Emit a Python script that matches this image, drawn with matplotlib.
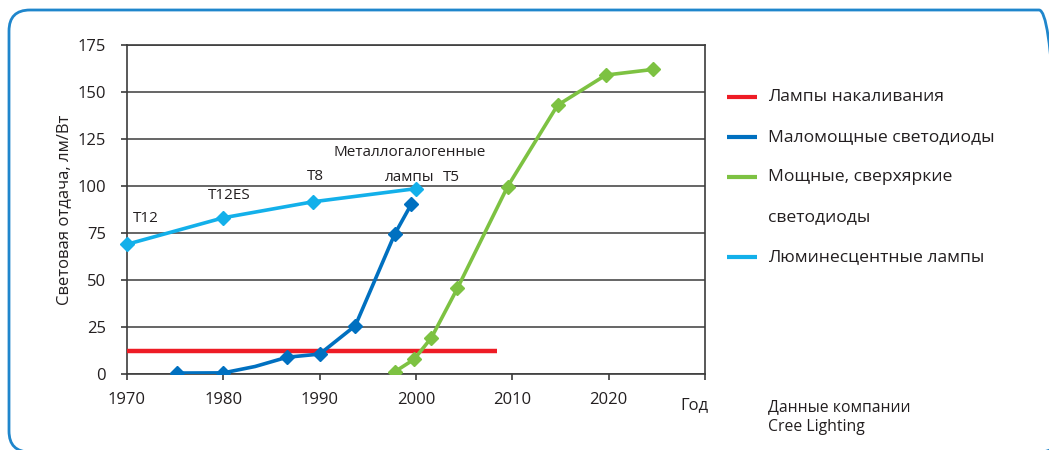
import matplotlib
matplotlib.use("Agg")
import matplotlib.pyplot as plt
from matplotlib.lines import Line2D
from matplotlib.patches import FancyBboxPatch

plt.rcParams['font.family'] = ['Open Sans', 'DejaVu Sans']

# Data
inc_x = [1970, 2008.4]
inc_y = [12, 12]

low_x = [1975.2, 1980.0, 1983.3, 1986.6, 1990.0, 1993.7, 1997.8, 1999.5]
low_y = [0.5, 0.6, 4.0, 8.9, 10.6, 25.7, 74.5, 90.2]
low_marks = [0, 1, 3, 4, 5, 6, 7]

hp_x = [1997.8, 1999.8, 2001.6, 2004.3, 2009.5, 2014.7, 2019.7, 2024.6]
hp_y = [1.2, 7.8, 19.3, 45.6, 99.6, 143.0, 159.0, 162.0]

fl_x = [1970.0, 1980.0, 1989.3, 2000.0]
fl_y = [69.0, 83.1, 91.6, 98.6]

annotations = [
    ("T12", 1972.0, 82.5),
    ("T12ES", 1980.6, 95.0),
    ("T8", 1989.6, 105.0),
    ("Металлогалогенные", 1999.3, 118.0),
    ("лампы", 1999.3, 104.5),
    ("T5", 2003.7, 104.5),
]

legend_labels = ["Лампы накаливания", "Маломощные светодиоды",
                 "Мощные, сверхяркие", "Люминесцентные лампы"]

x_ticks = [1970, 1980, 1990, 2000, 2010, 2020, 2030]
x_ticklabels = ["1970", "1980", "1990", "2000", "2010", "2020", ""]
y_ticks = [0, 25, 50, 75, 100, 125, 150, 175]

RED = "#ee1c25"
DBLUE = "#0070c0"
GREEN = "#7dc242"
LBLUE = "#13b0ea"
TXT = "#231f20"
GRID = "#3c3c3c"

W, H = 1049, 450
fig = plt.figure(figsize=(W / 100, H / 100), dpi=100)
ax = fig.add_axes([127 / W, 1 - 374 / H, (705 - 127) / W, (374 - 45) / H])

ax.plot(inc_x, inc_y, color=RED, lw=3.2, solid_capstyle='butt', zorder=3)
ax.plot(low_x, low_y, color=DBLUE, lw=2.6, marker='D', ms=7.5, markevery=low_marks, zorder=4)
ax.plot(hp_x, hp_y, color=GREEN, lw=2.6, marker='D', ms=7.5, zorder=4)
ax.plot(fl_x, fl_y, color=LBLUE, lw=2.6, marker='D', ms=7.5, zorder=4, clip_on=False)

for t, x, y in annotations:
    ax.text(x, y, t, ha='center', va='center', fontsize=11, color=TXT)

ax.set_xlim(1970, 2030)
ax.set_ylim(0, 175)
ax.set_xticks(x_ticks)
ax.set_xticklabels(x_ticklabels)
ax.set_yticks(y_ticks)
ax.tick_params(axis='both', labelsize=12, colors=GRID, labelcolor=TXT, length=4.3, width=1.2, direction='out')
ax.tick_params(axis='x', pad=9)
ax.tick_params(axis='y', pad=10.8)
ax.grid(axis='y', color=GRID, lw=1.1)
ax.set_axisbelow(True)
for s in ax.spines.values():
    s.set_color(GRID)
    s.set_linewidth(1.2)
ax.set_ylabel("Световая отдача, лм/Вт", fontsize=12, color=TXT, labelpad=4)

fig.text(694 / W, 1 - 405 / H, "Год", fontsize=12, color=TXT, ha='center', va='center')

# Legend drawn manually
leg_y = [97, 137, 177, 257]
colors = [RED, DBLUE, GREEN, LBLUE]
for yy, c, lab in zip(leg_y, colors, legend_labels):
    fig.add_artist(Line2D([727 / W, 757 / W], [1 - yy / H] * 2, color=c, lw=3, solid_capstyle='butt'))
    fig.text(768 / W, 1 - yy / H, lab, fontsize=12.6, color=TXT, ha='left', va='center')
fig.text(768 / W, 1 - 217 / H, "светодиоды", fontsize=12.6, color=TXT, ha='left', va='center')

fig.text(768 / W, 1 - 407 / H, "Данные компании", fontsize=11.3, color=TXT, ha='left', va='center')
fig.text(768 / W, 1 - 427 / H, "Cree Lighting", fontsize=11.3, color=TXT, ha='left', va='center')

border = FancyBboxPatch((9 / W, -2 / H), (1060 - 9) / W, (440 + 2) / H,
                        boxstyle="round,pad=0,rounding_size=0.02",
                        transform=fig.transFigure, fill=False,
                        edgecolor="#1f86cc", lw=2, clip_on=False,
                        mutation_aspect=W / H)
fig.add_artist(border)

fig.savefig("out.png", dpi=100)
